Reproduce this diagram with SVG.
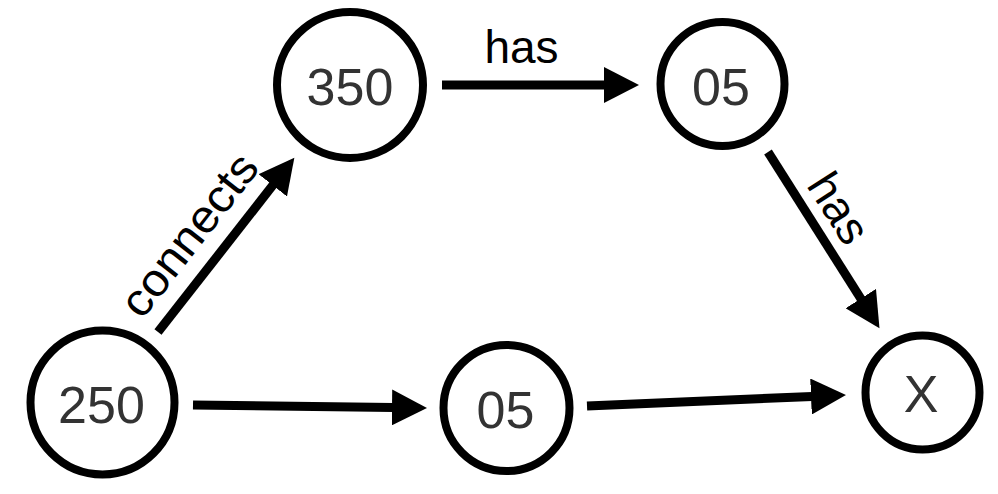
<svg xmlns="http://www.w3.org/2000/svg" width="998" height="494" viewBox="0 0 998 494">
<style>
.node circle{fill:#fff;stroke:#000;stroke-width:8}
.node text{font-family:"Liberation Sans",Arial,sans-serif;font-size:52px;fill:#333;text-anchor:middle}
.edge line{stroke:#000;stroke-width:9;marker-end:url(#ah)}
.lbl{font-family:"Liberation Sans",Arial,sans-serif;font-size:46px;fill:#000;text-anchor:middle}
</style>
<defs>
<marker id="ah" markerUnits="userSpaceOnUse" markerWidth="36" markerHeight="36" viewBox="0 0 36 36" refX="1" refY="18" orient="auto">
<path d="M0,0 L35,18 L0,36 z" fill="#000"/>
</marker>
</defs>
<rect width="998" height="494" fill="#fff"/>
<g id="connectors">
<g class="edge"><line x1="158" y1="332" x2="273.4" y2="184.6"/></g>
<g class="edge"><line x1="442" y1="85" x2="605" y2="85"/></g>
<g class="edge"><line x1="768" y1="152" x2="861.3" y2="299.4"/></g>
<g class="edge"><line x1="193" y1="405" x2="393" y2="407.5"/></g>
<g class="edge"><line x1="587" y1="406" x2="812" y2="396.5"/></g>
<text class="lbl" transform="translate(201.5,244.4) rotate(-52)" textLength="193" lengthAdjust="spacingAndGlyphs">connects</text>
<text class="lbl" x="521.5" y="63">has</text>
<text class="lbl" transform="translate(825.7,216.5) rotate(57.5)">has</text>
</g>
<g id="n250" class="node"><circle cx="102.5" cy="402.5" r="72"/><text x="101.5" y="423">250</text></g>
<g id="n350" class="node"><circle cx="350" cy="85" r="73"/><text x="350" y="105">350</text></g>
<g id="n05a" class="node"><circle cx="722.5" cy="84" r="62"/><text x="721" y="105">05</text></g>
<g id="n05b" class="node"><circle cx="506.5" cy="408" r="63"/><text x="505.5" y="428">05</text></g>
<g id="nX" class="node"><circle cx="922.5" cy="392.5" r="57"/><text x="921" y="412">X</text></g>
</svg>
